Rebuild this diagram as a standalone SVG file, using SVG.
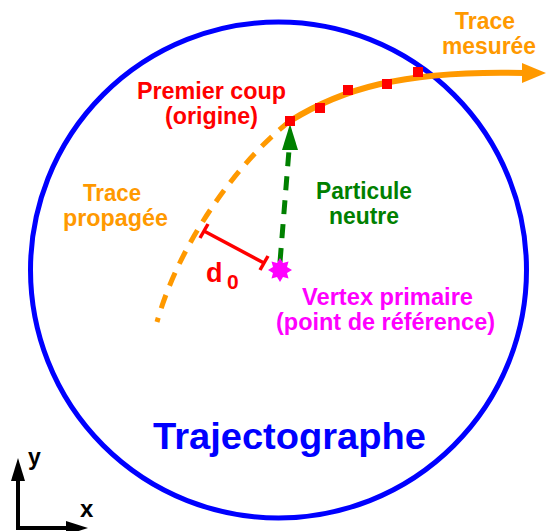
<svg xmlns="http://www.w3.org/2000/svg" width="546" height="531" viewBox="0 0 546 531">
<style>
text{font-family:"Liberation Sans",Arial,sans-serif;font-weight:bold;font-size:23.5px}
.or{fill:#ff9900}.rd{fill:#ff0000}.gr{fill:#008000}.mg{fill:#ff00ff}.bl{fill:#0000ff}.bk{fill:#000}
</style>
<rect width="546" height="531" fill="#fff"/>
<g id="trajectographe">
<circle cx="278.5" cy="270" r="248" fill="none" stroke="#0000ff" stroke-width="5"/>
<text class="bl" x="153" y="449" style="font-size:36px" textLength="273" lengthAdjust="spacingAndGlyphs">Trajectographe</text>
</g>
<g id="connectors">
<path d="M290,121 C240,160 180,240 157,322" fill="none" stroke="#ff9900" stroke-width="5" stroke-dasharray="14,10"/>
<path d="M290,121 C340,90 400,70 524,73" fill="none" stroke="#ff9900" stroke-width="6"/>
<polygon points="546,73 522,63 522,83" fill="#ff9900"/>
<line x1="280" y1="262" x2="289" y2="150" stroke="#008000" stroke-width="5" stroke-dasharray="14,10"/>
<polygon points="290,124 298,150 282,150" fill="#008000"/>
<g stroke="#ff0000" stroke-width="3.5">
<line x1="204" y1="231" x2="264" y2="263"/>
<line x1="200" y1="238" x2="208" y2="224"/>
<line x1="260" y1="270" x2="268" y2="256"/>
</g>
</g>
<g id="hits" fill="#ff0000">
<rect x="285" y="116" width="10" height="10"/>
<rect x="315" y="103" width="10" height="10"/>
<rect x="343" y="85" width="10" height="10"/>
<rect x="382" y="79" width="10" height="10"/>
<rect x="413" y="67" width="10" height="10"/>
</g>
<g id="trace-mesuree">
<text class="or" x="455" y="29" textLength="60" lengthAdjust="spacingAndGlyphs">Trace</text>
<text class="or" x="442" y="54" textLength="94" lengthAdjust="spacingAndGlyphs">mesurée</text>
</g>
<g id="premier-coup">
<text class="rd" x="137" y="99" textLength="149" lengthAdjust="spacingAndGlyphs">Premier coup</text>
<text class="rd" x="165" y="124" textLength="93" lengthAdjust="spacingAndGlyphs">(origine)</text>
</g>
<g id="trace-propagee">
<text class="or" x="83" y="201" textLength="58" lengthAdjust="spacingAndGlyphs">Trace</text>
<text class="or" x="63" y="226" textLength="105" lengthAdjust="spacingAndGlyphs">propagée</text>
</g>
<g id="particule-neutre">
<text class="gr" x="316" y="199" textLength="96" lengthAdjust="spacingAndGlyphs">Particule</text>
<text class="gr" x="329" y="224" textLength="70" lengthAdjust="spacingAndGlyphs">neutre</text>
</g>
<g id="d0">
<text class="rd" x="206" y="282" style="font-size:27px">d</text>
<text class="rd" x="227" y="289" style="font-size:21px">0</text>
</g>
<g id="vertex">
<polygon fill="#ff00ff" points="280,258 283,263 288.5,261.5 287,267 292,270 287,273 288.5,278.5 283,277 280,282 277,277 271.5,278.5 273,273 268,270 273,267 271.5,261.5 277,263"/>
<text class="mg" x="302" y="305" textLength="171" lengthAdjust="spacingAndGlyphs">Vertex primaire</text>
<text class="mg" x="276" y="330" textLength="219" lengthAdjust="spacingAndGlyphs">(point de référence)</text>
</g>
<g id="axes">
<line x1="18" y1="530" x2="18" y2="476" stroke="#000" stroke-width="4"/>
<polygon points="18,458 11,481 25,481" fill="#000"/>
<line x1="16" y1="528" x2="70" y2="528" stroke="#000" stroke-width="4"/>
<polygon points="88,528 66,521 66,535" fill="#000"/>
<text class="bk" x="28" y="465" style="font-size:23px">y</text>
<text class="bk" x="80" y="517" style="font-size:24px">x</text>
</g>
</svg>
